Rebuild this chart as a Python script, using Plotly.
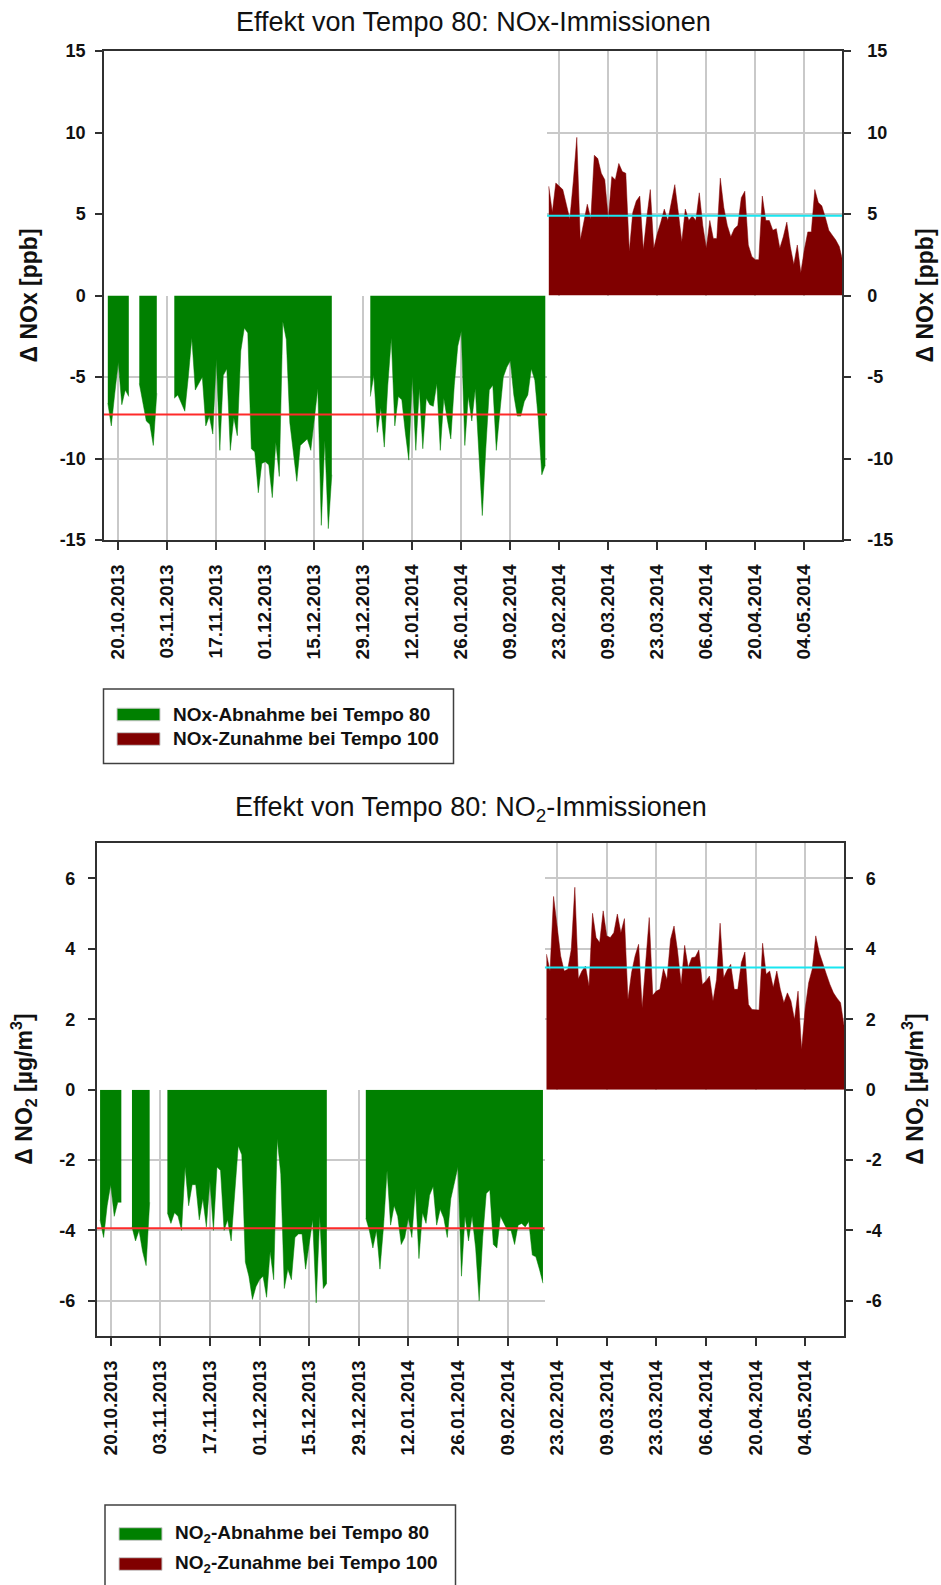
import pandas as pd
import plotly.graph_objects as go

# ---------------- data (daily values) ----------------
tick_start = "2013-10-20"          # first labelled date
tick_step_days = 14

t80_start = "2013-10-17"           # first day of the Tempo-80 period
t100_start = "2014-02-20"          # first day of the Tempo-100 period

nox_t80 = [
    -6.6, -8.0, -6.0, -4.1, -6.7, -5.8, -6.2,
    None, None,
    -5.4, -6.6, -7.7, -7.9, -9.2, -6.0,
    None, None, None, None,
    -6.3, -6.1, -6.6, -7.1, -5.0, -2.6, -5.8, -5.4, -5.0, -8.0,
    -7.4, -8.5, -3.9, -9.5, -4.9, -4.5, -9.5, -7.5, -8.6, -3.4,
    -2.0, -2.3, -9.4, -9.6, -12.1, -10.3, -10.2, -10.4, -12.4, -9.0,
    -11.1, -1.6, -2.7, -7.8, -9.7, -11.4, -9.2, -9.0, -8.8, -9.5,
    -7.6, -5.7, -14.1, -8.9, -14.3, -11.0,
    None, None, None, None, None, None, None, None, None, None,
    -6.2, -4.9, -8.4, -6.9, -9.3, -5.5, -2.6, -8.0, -6.2, -6.4,
    -8.4, -10.1, -5.0, -9.5, -5.7, -9.4, -6.3, -6.7, -6.8, -5.4,
    -9.5, -6.3, -7.6, -8.8, -5.5, -3.1, -2.2, -9.2, -6.2, -7.7,
    -5.7, -9.7, -13.5, -9.4, -5.8, -5.5, -9.5, -7.2, -5.0, -4.4,
    -4.0, -6.1, -7.4, -7.4, -6.5, -6.1, -4.5, -5.2, -7.6, -11.0, -10.4,
]
nox_t100 = [
    6.7, 5.1, 6.9, 6.7, 6.5, 5.6, 4.7, 7.0, 9.7,
    3.4, 4.5, 5.6, 4.7, 8.6, 8.4, 7.5, 7.1, 4.7, 7.3,
    7.1, 8.1, 7.6, 7.5, 2.7, 5.1, 5.8, 6.1, 2.8, 4.8,
    6.5, 2.9, 3.8, 4.5, 5.3, 4.6, 5.8, 6.8, 5.1, 3.3,
    5.3, 4.6, 4.9, 4.6, 6.3, 4.3, 2.9, 4.6, 3.5, 3.5,
    7.2, 5.4, 4.3, 3.6, 4.1, 4.3, 6.0, 6.4, 3.1, 2.4,
    2.2, 2.2, 6.1, 4.6, 4.6, 4.0, 4.1, 2.9, 3.6, 4.5,
    3.0, 1.9, 3.1, 1.4, 2.8, 3.9, 3.9, 6.5, 5.7, 5.5,
    4.8, 4.0, 3.7, 3.4, 3.0, 2.1,
]
no2_t80 = [
    -3.7, -4.2, -3.3, -2.7, -3.6, -3.2, -3.2,
    None, None,
    -3.9, -4.3, -4.0, -4.6, -5.0, -3.2,
    None, None, None, None,
    -3.5, -3.8, -3.5, -3.6, -4.0, -2.2, -3.3, -2.7, -2.7, -3.7,
    -3.1, -3.9, -2.6, -4.0, -2.2, -2.3, -4.0, -3.7, -4.3, -2.8,
    -1.6, -1.85, -4.9, -5.3, -5.96, -5.6, -5.4, -5.3, -5.9, -4.6,
    -5.4, -1.4, -2.4, -5.65, -5.1, -5.4, -4.2, -4.1, -4.1, -5.1,
    -4.4, -3.7, -6.06, -3.6, -5.65, -5.5,
    None, None, None, None, None, None, None, None, None, None,
    -3.65, -4.0, -4.5, -4.0, -5.1, -3.9, -2.3, -3.85, -3.3, -3.6,
    -4.4, -4.2, -3.65, -4.2, -2.8, -4.8, -3.5, -3.8, -3.0, -2.75,
    -3.85, -3.4, -3.65, -4.2, -3.1, -2.6, -2.2, -5.3, -3.6, -4.3,
    -3.6, -4.5, -6.0, -4.2, -2.95, -2.85, -4.4, -4.5, -3.6, -3.8,
    -4.0, -4.0, -4.4, -3.85, -3.8, -3.9, -3.75, -4.7, -4.75, -5.1, -5.5,
]
no2_t100 = [
    3.85, 3.37, 5.49, 4.6, 3.8, 3.37, 3.42, 3.99, 5.75,
    3.15, 3.37, 3.51, 2.94, 5.01, 4.32, 4.18, 5.08, 4.37, 4.32,
    4.46, 4.99, 4.46, 4.86, 2.56, 3.32, 3.8, 4.13, 2.33, 3.6,
    4.89, 2.68, 2.8, 2.85, 3.44, 3.13, 4.27, 4.65, 3.94, 2.99,
    4.1, 3.47, 3.75, 3.77, 3.97, 2.99, 3.09, 3.23, 2.52, 3.13,
    4.73, 3.18, 3.4, 3.56, 2.85, 2.85, 3.61, 3.91, 2.42, 2.28,
    2.27, 2.26, 4.16, 3.28, 3.37, 2.9, 3.37, 2.85, 2.47, 2.75,
    2.52, 1.99, 2.8, 1.14, 2.3, 3.04, 3.42, 4.37, 3.89, 3.56,
    3.28, 2.99, 2.75, 2.6, 2.47, 1.8,
]

nox_mean_t80 = -7.3
nox_mean_t100 = 4.9
no2_mean_t80 = -3.94
no2_mean_t100 = 3.47

nox_yticks = [-15, -10, -5, 0, 5, 10, 15]
no2_yticks = [-6, -4, -2, 0, 2, 4, 6]

nox_title = "Effekt von Tempo 80: NOx-Immissionen"
no2_title = "Effekt von Tempo 80: NO<sub>2</sub>-Immissionen"
nox_ylabel = "<b>Δ NOx [ppb]</b>"
no2_ylabel = "<b>Δ NO<sub>2</sub> [µg/m<sup>3</sup>]</b>"
nox_legend = ["NOx-Abnahme bei Tempo 80", "NOx-Zunahme bei Tempo 100"]
no2_legend = ["NO<sub>2</sub>-Abnahme bei Tempo 80", "NO<sub>2</sub>-Zunahme bei Tempo 100"]

GREEN = "#008000"
DARKRED = "#800000"
MEANRED = "#ff2a2a"
CYAN = "#19e6f0"
GRID = "#c9c9c9"
AXIS = "#303030"
FONT = "Liberation Sans, Arial, sans-serif"

# ---------------- layout helpers ----------------
W, H = 941, 1585


def fx(px):
    return px / W


def fy(py):
    return 1 - py / H


base = pd.Timestamp(tick_start)


def day(d):
    return base + pd.Timedelta(days=d)


def segments(dates, values):
    """Split a daily series into its continuous runs (gaps are None)."""
    runs, cur = [], []
    for dt, v in zip(dates, values):
        if v is None:
            if cur:
                runs.append(cur)
            cur = []
        else:
            cur.append((dt, v))
    if cur:
        runs.append(cur)
    return runs


split_day = 122.5

panels = [
    dict(k=1, left=104, right=842, top=51, bottom=540, base_px=118.3, ppd=3.5,
         ymax=15, ystep=5, yticks=nox_yticks, t80=nox_t80, t100=nox_t100,
         m80=nox_mean_t80, m100=nox_mean_t100, title=nox_title, title_y=22,
         ylabel=nox_ylabel, ylab_l=29, ylab_r=925, lstand=6, rstand=13,
         legend=nox_legend, leg_box=(103.5, 689, 453.5, 763.5),
         sw_y=(714.5, 739), sw_x=(117, 160), txt_x=171),
    dict(k=5, left=96.7, right=844.3, top=843.3, bottom=1336, base_px=110.7, ppd=3.543,
         ymax=7, ystep=2, yticks=no2_yticks, t80=no2_t80, t100=no2_t100,
         m80=no2_mean_t80, m100=no2_mean_t100, title=no2_title, title_y=809,
         ylabel=no2_ylabel, ylab_l=23, ylab_r=914, lstand=9, rstand=9,
         legend=no2_legend, leg_box=(105, 1505, 455.5, 1600),
         sw_y=(1534, 1564), sw_x=(119, 162), txt_x=173),
]

fig = go.Figure()
layout = {}
shapes = []
annotations = []

for p in panels:
    k = p["k"]
    left_d = (p["left"] - p["base_px"]) / p["ppd"]
    right_d = (p["right"] - p["base_px"]) / p["ppd"]
    split_px = p["base_px"] + p["ppd"] * split_day
    zero_px = (p["top"] + p["bottom"]) / 2
    xr = [day(left_d), day(right_d)]
    xdom = [fx(p["left"]), fx(p["right"])]
    ydom = [fy(p["bottom"]), fy(p["top"])]
    ymax = p["ymax"]
    tickfont = dict(family=FONT, size=18, color="#111111", weight="bold")
    xtickfont = dict(family=FONT, size=19, color="#111111", weight="bold")
    ytext = [str(v) for v in p["yticks"]]

    sx = "" if k == 1 else str(k)
    xa_main, ya_main, ya_right = "x" + sx, "y" + sx, "y" + str(k + 1)
    xa_l, ya_l = "x" + str(k + 2), "y" + str(k + 2)
    xa_r, ya_r = "x" + str(k + 3), "y" + str(k + 3)

    # main frame axes
    layout["xaxis" + sx] = dict(
        domain=xdom, range=xr, type="date", anchor=ya_main,
        tick0=tick_start, dtick=tick_step_days * 86400000, tickformat="%d.%m.%Y",
        tickangle=-90, ticks="outside", ticklen=8, tickwidth=1.5, tickcolor=AXIS,
        showline=True, linecolor=AXIS, linewidth=1.5, mirror=True,
        showgrid=False, zeroline=False, tickfont=xtickfont, ticklabelstandoff=7,
        automargin=False,
    )
    layout["yaxis" + sx] = dict(
        domain=ydom, range=[-ymax, ymax], anchor=xa_main,
        tickmode="array", tickvals=p["yticks"], ticktext=ytext,
        ticks="outside", ticklen=7, tickwidth=1.5, tickcolor=AXIS,
        showline=True, linecolor=AXIS, linewidth=1.5,
        showgrid=False, zeroline=False, tickfont=tickfont,
        ticklabelstandoff=p["lstand"], automargin=False,
    )
    layout["yaxis" + str(k + 1)] = dict(
        range=[-ymax, ymax], overlaying=ya_main, anchor=xa_main, side="right",
        tickmode="array", tickvals=p["yticks"], ticktext=ytext,
        ticks="outside", ticklen=7, tickwidth=1.5, tickcolor=AXIS,
        showline=True, linecolor=AXIS, linewidth=1.5,
        showgrid=False, zeroline=False, tickfont=tickfont,
        ticklabelstandoff=p["rstand"], automargin=False,
    )
    grid_common = dict(showgrid=True, gridcolor=GRID, gridwidth=1.5,
                       showticklabels=False, ticks="", showline=False, zeroline=False)
    # left (Tempo 80) grid panel: negative values
    layout["xaxis" + str(k + 2)] = dict(
        domain=[fx(p["left"]), fx(split_px)], range=[xr[0], day(split_day)],
        type="date", anchor=ya_l, tick0=tick_start,
        dtick=tick_step_days * 86400000, **grid_common)
    layout["yaxis" + str(k + 2)] = dict(
        domain=[fy(p["bottom"]), fy(zero_px)], range=[-ymax, 0],
        anchor=xa_l, tick0=0, dtick=p["ystep"], **grid_common)
    # right (Tempo 100) grid panel: positive values
    layout["xaxis" + str(k + 3)] = dict(
        domain=[fx(split_px), fx(p["right"])], range=[day(split_day), xr[1]],
        type="date", anchor=ya_r, tick0=tick_start,
        dtick=tick_step_days * 86400000, **grid_common)
    layout["yaxis" + str(k + 3)] = dict(
        domain=[fy(zero_px), fy(p["top"])], range=[0, ymax],
        anchor=xa_r, tick0=0, dtick=p["ystep"], **grid_common)

    # empty carriers so the frame axes (left and right) are drawn
    for ya in (ya_main, ya_right):
        fig.add_trace(go.Scatter(x=[None], y=[None], mode="lines",
                                 xaxis=xa_main, yaxis=ya, showlegend=False,
                                 hoverinfo="skip"))

    d80 = pd.date_range(t80_start, periods=len(p["t80"]), freq="D")
    d100 = pd.date_range(t100_start, periods=len(p["t100"]), freq="D")

    for run in segments(d80, p["t80"]):
        fig.add_trace(go.Scatter(
            x=[r[0] for r in run], y=[r[1] for r in run], mode="lines",
            line=dict(color=GREEN, width=0.5), fill="tozeroy", fillcolor=GREEN,
            xaxis=xa_l, yaxis=ya_l, showlegend=False, hoverinfo="x+y"))
    fig.add_trace(go.Scatter(
        x=[xr[0], day(split_day)], y=[p["m80"], p["m80"]], mode="lines",
        line=dict(color=MEANRED, width=2),
        xaxis=xa_l, yaxis=ya_l, showlegend=False))
    for run in segments(d100, p["t100"]):
        fig.add_trace(go.Scatter(
            x=[r[0] for r in run], y=[r[1] for r in run], mode="lines",
            line=dict(color=DARKRED, width=0.5), fill="tozeroy", fillcolor=DARKRED,
            xaxis=xa_r, yaxis=ya_r, showlegend=False, hoverinfo="x+y"))
    fig.add_trace(go.Scatter(
        x=[day(split_day), xr[1]], y=[p["m100"], p["m100"]], mode="lines",
        line=dict(color=CYAN, width=2),
        xaxis=xa_r, yaxis=ya_r, showlegend=False))

    # chart title
    annotations.append(dict(
        text=p["title"], xref="paper", yref="paper",
        x=fx((p["left"] + p["right"]) / 2), y=fy(p["title_y"]),
        xanchor="center", yanchor="middle", showarrow=False,
        font=dict(family=FONT, size=27, color="#111111")))
    # y axis titles (left and right)
    for xpos in (p["ylab_l"], p["ylab_r"]):
        annotations.append(dict(
            text=p["ylabel"], xref="paper", yref="paper",
            x=fx(xpos), y=fy(zero_px), xanchor="center", yanchor="middle",
            textangle=-90, showarrow=False,
            font=dict(family=FONT, size=23, color="#111111")))
    # legend box
    bx0, by0, bx1, by1 = p["leg_box"]
    shapes.append(dict(type="rect", xref="paper", yref="paper",
                       x0=fx(bx0), x1=fx(bx1), y0=fy(by1), y1=fy(by0),
                       line=dict(color="#404040", width=1.5), fillcolor="white"))
    for label, col, yc in zip(p["legend"], (GREEN, DARKRED), p["sw_y"]):
        shapes.append(dict(type="rect", xref="paper", yref="paper",
                           x0=fx(p["sw_x"][0]), x1=fx(p["sw_x"][1]),
                           y0=fy(yc + 6.3), y1=fy(yc - 6.3),
                           line=dict(color="#c8c8c8", width=1), fillcolor=col))
        annotations.append(dict(
            text="<b>" + label + "</b>", xref="paper", yref="paper",
            x=fx(p["txt_x"]), y=fy(yc), xanchor="left", yanchor="middle",
            showarrow=False, font=dict(family=FONT, size=19, color="#111111")))

fig.update_layout(
    width=W, height=H, autosize=False,
    margin=dict(l=0, r=0, t=0, b=0, pad=0, autoexpand=False),
    paper_bgcolor="white", plot_bgcolor="rgba(0,0,0,0)",
    showlegend=False, font=dict(family=FONT),
    shapes=shapes, annotations=annotations,
    **layout,
)

fig.write_html("out.html")
